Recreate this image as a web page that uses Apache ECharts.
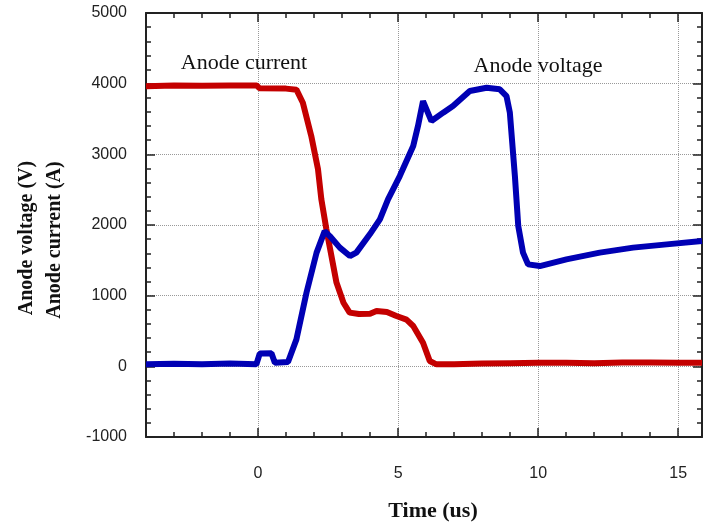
<!DOCTYPE html>
<html>
<head>
<meta charset="utf-8">
<script src="https://cdn.jsdelivr.net/npm/echarts@6/dist/echarts.min.js"></script>
<style>
  html, body { margin: 0; padding: 0; background: #fff; }
  #chart_div { width: 703px; height: 527px; }
</style>
</head>
<body>
<div id="chart_div"></div>
<script>
// anode current (A), red trace
var currentTime = [-4, -3, -2, -1, -0.05, 0.05, 1.0, 1.37, 1.6, 1.9, 2.14, 2.26, 2.44, 2.8, 3.05, 3.27, 3.6, 4.0, 4.23, 4.6, 4.94, 5.3, 5.54, 5.89, 6.13, 6.37, 7, 8, 9, 10, 11, 12, 13, 14, 15, 15.85];
var currentValues = [3965, 3975, 3970, 3975, 3975, 3935, 3930, 3915, 3730, 3260, 2790, 2363, 1940, 1185, 900, 760, 740, 745, 783, 770, 712, 660, 570, 335, 75, 28, 30, 40, 45, 50, 50, 45, 55, 55, 50, 50];

// anode voltage (V), blue trace
var voltageTime = [-4, -3, -2, -1, -0.06, 0.06, 0.48, 0.6, 1.07, 1.37, 1.73, 2.09, 2.38, 2.56, 2.92, 3.28, 3.51, 3.99, 4.35, 4.64, 5.06, 5.54, 5.71, 5.89, 6.19, 6.61, 6.96, 7.56, 8.16, 8.63, 8.87, 8.99, 9.17, 9.29, 9.46, 9.64, 10.06, 11.01, 12.2, 13.39, 14.59, 15.85];
var voltageValues = [30, 35, 30, 40, 28, 180, 184, 52, 61, 382, 1043, 1609, 1915, 1844, 1680, 1561, 1609, 1868, 2080, 2363, 2693, 3117, 3400, 3754, 3471, 3590, 3683, 3896, 3943, 3920, 3825, 3590, 2693, 1985, 1609, 1443, 1419, 1514, 1609, 1680, 1726, 1773];

var xMajorTicks = [0, 5, 10, 15];

function pairs(xs, ys) {
    var out = [];
    for (var i = 0; i < xs.length; i++) out.push([xs[i], ys[i]]);
    return out;
}

var axisColor = '#222';
var gridLine = { show: true, lineStyle: { color: '#999', type: 'dotted', width: 1 } };

function minorXAxis(pos) {
    return {
        type: 'value', position: pos, min: -4, max: 15.85, interval: 1,
        axisLine: { show: true, onZero: false, lineStyle: { color: axisColor, width: 2 } },
        axisTick: { show: true, inside: true, length: 5, lineStyle: { color: axisColor, width: 1.5 } },
        axisLabel: { show: false },
        splitLine: { show: false }
    };
}

function majorXAxis(pos, withLabels) {
    return {
        type: 'value', position: pos, min: -4, max: 15.85,
        axisLine: { show: false, onZero: false },
        axisTick: { show: true, inside: true, length: 9, customValues: xMajorTicks, lineStyle: { color: axisColor, width: 1.5 } },
        axisLabel: { show: withLabels, customValues: xMajorTicks, margin: 29, color: '#222', fontSize: 16, fontFamily: 'Liberation Sans' },
        splitLine: withLabels ? gridLine : { show: false }
    };
}

function yAxis(pos, withLabels) {
    return {
        type: 'value', position: pos, min: -1000, max: 5000, interval: 1000,
        axisLine: { show: true, onZero: false, lineStyle: { color: axisColor, width: 2 } },
        axisTick: { show: true, inside: true, length: 9, lineStyle: { color: axisColor, width: 1.5 } },
        minorTick: { show: true, splitNumber: 5, length: 5, lineStyle: { color: axisColor, width: 1.5 } },
        axisLabel: {
            show: withLabels, margin: 19, color: '#222', fontSize: 16, fontFamily: 'Liberation Sans',
            formatter: function (v) { return String(v); }
        },
        splitLine: withLabels ? gridLine : { show: false }
    };
}

var myChart = echarts.init(document.getElementById('chart_div'));
myChart.setOption({
    animation: false,
    backgroundColor: '#fff',
    grid: { left: 146, right: 1, top: 13, bottom: 90 },
    xAxis: [majorXAxis('bottom', true), minorXAxis('bottom'), minorXAxis('top'), majorXAxis('top', false)],
    yAxis: [yAxis('left', true), yAxis('right', false)],
    graphic: [
        { type: 'text', x: 244, y: 63, style: { text: 'Anode current', font: '22px "Liberation Serif"', fill: '#111', align: 'center', verticalAlign: 'middle' } },
        { type: 'text', x: 538, y: 66, style: { text: 'Anode voltage', font: '22px "Liberation Serif"', fill: '#111', align: 'center', verticalAlign: 'middle' } },
        { type: 'text', x: 433, y: 511, style: { text: 'Time (us)', font: 'bold 22px "Liberation Serif"', fill: '#111', align: 'center', verticalAlign: 'middle' } },
        { type: 'text', x: 27, y: 238, rotation: Math.PI / 2, style: { text: 'Anode voltage (V)', font: 'bold 20px "Liberation Serif"', fill: '#111', align: 'center', verticalAlign: 'middle' } },
        { type: 'text', x: 55, y: 240, rotation: Math.PI / 2, style: { text: 'Anode current (A)', font: 'bold 20px "Liberation Serif"', fill: '#111', align: 'center', verticalAlign: 'middle' } }
    ],
    series: [
        {
            name: 'Anode current', type: 'line', xAxisIndex: 0, yAxisIndex: 0,
            showSymbol: false, data: pairs(currentTime, currentValues),
            lineStyle: { color: '#c40000', width: 6 }, itemStyle: { color: '#c40000' }
        },
        {
            name: 'Anode voltage', type: 'line', xAxisIndex: 0, yAxisIndex: 0,
            showSymbol: false, data: pairs(voltageTime, voltageValues),
            lineStyle: { color: '#0000b4', width: 6 }, itemStyle: { color: '#0000b4' }
        }
    ]
});
</script>
</body>
</html>
